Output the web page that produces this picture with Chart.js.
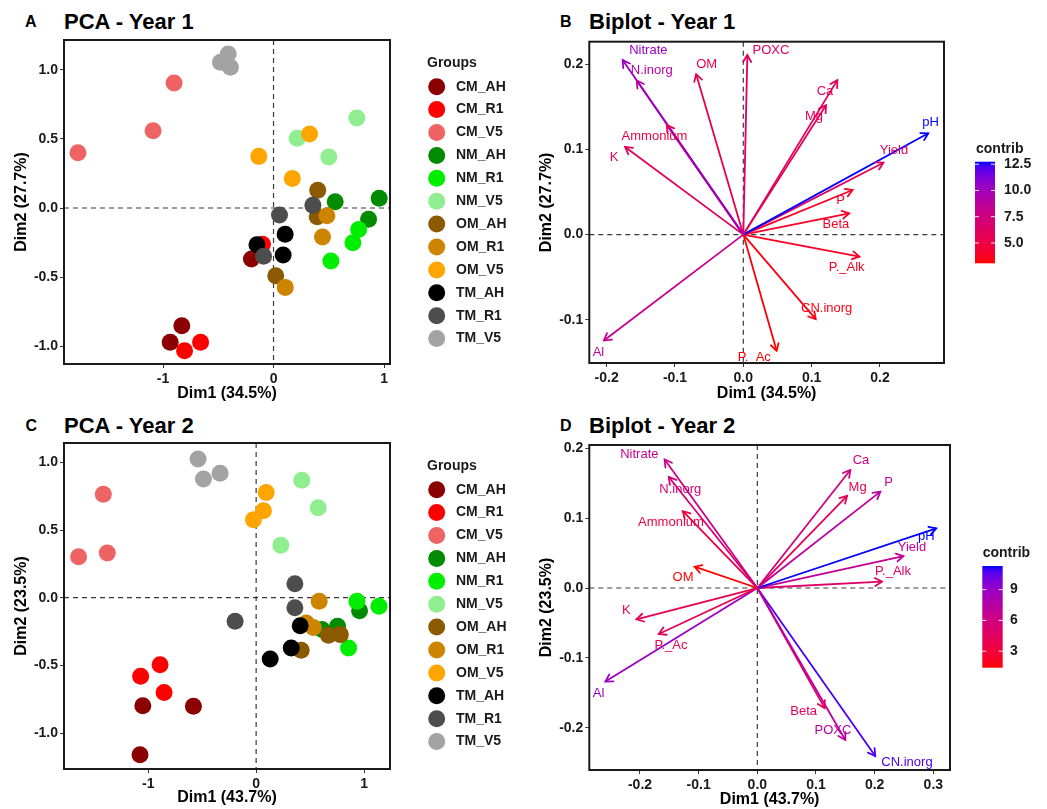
<!DOCTYPE html>
<html><head><meta charset="utf-8">
<script src="https://cdn.jsdelivr.net/npm/chart.js@4.4.0/dist/chart.umd.min.js"></script>
<style>
body{margin:0;width:1047px;height:809px;background:#fff;position:relative;overflow:hidden;font-family:"Liberation Sans",Arial,sans-serif;}
canvas{position:absolute;}
.t{position:absolute;font-weight:bold;color:#000;white-space:nowrap;}
.letter{font-size:16px;line-height:16px;}
.title{font-size:22px;line-height:22px;}
</style></head><body>
<div class="t letter" style="left:25px;top:13.6px">A</div>
<div class="t title" style="left:64px;top:10.7px">PCA - Year 1</div>
<div class="t letter" style="left:560px;top:13.6px">B</div>
<div class="t title" style="left:589px;top:10.7px">Biplot - Year 1</div>
<div class="t letter" style="left:25.6px;top:417.6px">C</div>
<div class="t title" style="left:64px;top:414.7px">PCA - Year 2</div>
<div class="t letter" style="left:560px;top:417.6px">D</div>
<div class="t title" style="left:589px;top:414.7px">Biplot - Year 2</div>
<canvas id="cA" width="530" height="405" style="left:0;top:0"></canvas>
<canvas id="cB" width="517" height="405" style="left:530px;top:0"></canvas>
<canvas id="cC" width="530" height="406" style="left:0;top:403px"></canvas>
<canvas id="cD" width="517" height="406" style="left:530px;top:403px"></canvas>
<script>
// ---------- DATA ----------
const groups = ['CM_AH','CM_R1','CM_V5','NM_AH','NM_R1','NM_V5','OM_AH','OM_R1','OM_V5','TM_AH','TM_R1','TM_V5'];
// Year 1 PCA individuals (3 per group)
const y1Dim1 = [
  [-0.83,-0.935,-0.20], [-0.805,-0.66,-0.10], [-1.77,-1.09,-0.90],
  [0.558,0.956,0.86], [0.77,0.718,0.519], [0.214,0.50,0.754],
  [0.40,0.395,0.02], [0.483,0.443,0.106], [-0.133,0.326,0.17],
  [-0.15,0.105,0.087], [-0.09,0.054,0.356], [-0.48,-0.41,-0.39]
];
const y1Dim2 = [
  [-0.853,-0.973,-0.37], [-1.034,-0.973,-0.263], [0.40,0.56,0.906],
  [0.046,0.07,-0.082], [-0.155,-0.251,-0.384], [0.505,0.37,0.652],
  [0.128,-0.063,-0.49], [-0.056,-0.21,-0.575], [0.374,0.536,0.213],
  [-0.266,-0.19,-0.34], [-0.35,-0.05,0.02], [1.056,1.116,1.02]
];
// Year 2 PCA individuals
const y2Dim1 = [
  [-1.05,-0.581,-1.076], [-0.89,-1.07,-0.853], [-1.416,-1.645,-1.379],
  [0.61,0.754,0.958], [0.934,1.138,0.856], [0.423,0.575,0.229],
  [0.417,0.67,0.78], [0.584,0.464,0.53], [0.093,0.068,-0.025],
  [0.408,0.325,0.13], [0.359,0.359,-0.195], [-0.538,-0.488,-0.334]
];
const y2Dim2 = [
  [-0.798,-0.803,-1.16], [-0.495,-0.581,-0.70], [0.764,0.303,0.330],
  [-0.236,-0.212,-0.096], [-0.027,-0.064,-0.372], [0.867,0.665,0.387],
  [-0.389,-0.278,-0.273], [-0.027,-0.187,-0.22], [0.778,0.643,0.576],
  [-0.207,-0.372,-0.453], [0.103,-0.074,-0.175], [1.025,0.877,0.919]
];
// Biplot variables
const vars = ['Nitrate','N.inorg','OM','POXC','Ca','Mg','Ammonium','K','pH','Yield','P','Beta','P._Alk','CN.inorg','P._Ac','Al'];
const b1Dim1 = [-0.1766,-0.156,-0.069,0.0059,0.1376,0.121,-0.112,-0.173,0.2707,0.205,0.16,0.155,0.17,0.106,0.0488,-0.204];
const b1Dim2 = [0.205,0.181,0.1885,0.211,0.1815,0.152,0.1287,0.103,0.119,0.0845,0.0524,0.025,-0.0258,-0.0993,-0.1365,-0.1244];
const b1Contrib = [10.3,8.9,5.5,6.0,6.0,5.8,5.0,6.0,12.74,6.0,4.0,4.0,3.8,3.3,3.06,8.2];
const b1LabX = [-0.139,-0.134,-0.0537,0.0405,0.1195,0.1034,-0.130,-0.189,0.274,0.2205,0.1424,0.1356,0.1512,0.122,0.0161,-0.212];
const b1LabY = [0.2167,0.1924,0.1998,0.2167,0.1686,0.1384,0.1158,0.0911,0.1318,0.0986,0.0407,0.0121,-0.0387,-0.0872,-0.1439,-0.138];
const b2Dim1 = [-0.158,-0.151,-0.107,0.15,0.1585,0.153,-0.127,-0.206,0.305,0.249,0.2097,0.1148,0.2125,0.201,-0.168,-0.259];
const b2Dim2 = [0.184,0.159,0.0305,-0.2177,0.169,0.132,0.110,-0.0449,0.0854,0.0458,0.138,-0.172,0.0091,-0.2406,-0.0659,-0.134];
const b2Contrib = [6.3,5.4,1.39,7.3,5.9,4.0,3.4,3.9,11.3,6.8,7.3,4.4,4.9,10.8,3.9,8.8];
const b2LabX = [-0.2011,-0.1313,-0.1267,0.129,0.1767,0.171,-0.1472,-0.2233,0.288,0.2636,0.2239,0.079,0.2313,0.2551,-0.1472,-0.2705];
const b2LabY = [0.1914,0.1413,0.0148,-0.2033,0.1823,0.1442,0.0936,-0.0315,0.0735,0.0582,0.1508,-0.1771,0.0243,-0.2496,-0.0816,-0.1508];
// Tick labels
const ticksA_x = [-1,0,1], ticksA_y = [-1,-0.5,0,0.5,1];
const ticksC_x = [-1,0,1], ticksC_y = [-1,-0.5,0,0.5,1];
const ticksB_x = [-0.2,-0.1,0,0.1,0.2], ticksB_y = [-0.1,0,0.1,0.2];
const ticksD_x = [-0.2,-0.1,0,0.1,0.2,0.3], ticksD_y = [-0.2,-0.1,0,0.1,0.2];
const cbarB_ticks = [5,7.5,10,12.5], cbarD_ticks = [3,6,9];

// ---------- STYLE ----------
const groupColors = ['#8B0000','#FF0000','#EE6363','#008B00','#00EE00','#90EE90','#8B5A00','#CD8500','#FFA500','#000000','#4D4D4D','#A3A3A3'];
const FONT = '"Liberation Sans", Arial, sans-serif';

function s2l(c){c/=255;return c<=0.04045?c/12.92:Math.pow((c+0.055)/1.055,2.4);}
function l2s(c){const v=c<=0.0031308?12.92*c:1.055*Math.pow(c,1/2.4)-0.055;return Math.round(Math.max(0,Math.min(1,v))*255);}
function rgb2lab(rgb){const r=s2l(rgb[0]),g=s2l(rgb[1]),b=s2l(rgb[2]);
  const X=(r*0.4124+g*0.3576+b*0.1805)/0.95047,Y=r*0.2126+g*0.7152+b*0.0722,Z=(r*0.0193+g*0.1192+b*0.9505)/1.08883;
  const f=t=>t>0.008856?Math.cbrt(t):7.787*t+16/116;const fx=f(X),fy=f(Y),fz=f(Z);
  return [116*fy-16,500*(fx-fy),200*(fy-fz)];}
function lab2rgb(l){const fy=(l[0]+16)/116,fx=fy+l[1]/500,fz=fy-l[2]/200;
  const fi=t=>t*t*t>0.008856?t*t*t:(t-16/116)/7.787;
  const X=fi(fx)*0.95047,Y=fi(fy),Z=fi(fz)*1.08883;
  const r=3.2406*X-1.5372*Y-0.4986*Z,g=-0.9689*X+1.8758*Y+0.0415*Z,b=0.0557*X-0.2040*Y+1.0570*Z;
  return 'rgb('+l2s(r)+','+l2s(g)+','+l2s(b)+')';}
const LAB_LO = rgb2lab([255,0,0]), LAB_HI = rgb2lab([0,0,255]);
function gradCol(t){t=Math.max(0,Math.min(1,t));return lab2rgb([0,1,2].map(k=>LAB_LO[k]+(LAB_HI[k]-LAB_LO[k])*t));}

// ---------- PLUGINS ----------
const zeroLines = {id:'zeroLines', beforeDatasetsDraw(chart){
  const {ctx, chartArea:a, scales:{x,y}} = chart; const px=x.getPixelForValue(0), py=y.getPixelForValue(0);
  ctx.save(); ctx.strokeStyle='#3a3a3a'; ctx.lineWidth=1.2; ctx.setLineDash([5,4]);
  ctx.beginPath(); ctx.moveTo(px,a.top); ctx.lineTo(px,a.bottom); ctx.moveTo(a.left,py); ctx.lineTo(a.right,py); ctx.stroke();
  ctx.restore();}};
const boxBorder = {id:'boxBorder', afterDraw(chart){
  const {ctx, chartArea:a} = chart; ctx.save(); ctx.strokeStyle='#1a1a1a'; ctx.lineWidth=2;
  ctx.strokeRect(a.left,a.top,a.right-a.left,a.bottom-a.top); ctx.restore();}};
const groupLegend = {id:'groupLegend', afterDraw(chart){
  const ctx=chart.ctx; ctx.save(); ctx.font='bold 14px '+FONT; ctx.textBaseline='middle'; ctx.textAlign='left';
  ctx.fillStyle='#1a1a1a'; ctx.fillText('Groups',427,63);
  groups.forEach((g,i)=>{const yy=86.7+i*22.9; ctx.beginPath(); ctx.arc(436.7,yy,8.5,0,2*Math.PI);
    ctx.fillStyle=groupColors[i]; ctx.fill(); ctx.fillStyle='#1a1a1a'; ctx.fillText(g,456,yy);});
  ctx.restore();}};
function arrowPlugin(labX, labY){ return {id:'arrows', afterDatasetsDraw(chart){
  const ctx=chart.ctx, sx=chart.scales.x, sy=chart.scales.y; ctx.save();
  chart.data.datasets.forEach((ds,i)=>{const m=chart.getDatasetMeta(i); const p0=m.data[0], p1=m.data[1];
    const ang=Math.atan2(p1.y-p0.y,p1.x-p0.x), L=8, h=Math.PI/6;
    ctx.strokeStyle=ds.borderColor; ctx.lineWidth=1.8; ctx.setLineDash([]); ctx.lineCap='round';
    ctx.beginPath(); ctx.moveTo(p1.x-L*Math.cos(ang-h),p1.y-L*Math.sin(ang-h)); ctx.lineTo(p1.x,p1.y);
    ctx.lineTo(p1.x-L*Math.cos(ang+h),p1.y-L*Math.sin(ang+h)); ctx.stroke();
    ctx.font='13px '+FONT; ctx.textAlign='center'; ctx.textBaseline='middle'; ctx.fillStyle=ds.borderColor;
    ctx.fillText(ds.label, sx.getPixelForValue(labX[i]), sy.getPixelForValue(labY[i]));});
  ctx.restore();}};}
function colorbarPlugin(c){ return {id:'cbar', afterDraw(chart){
  const ctx=chart.ctx; ctx.save();
  const g=ctx.createLinearGradient(0,c.y1,0,c.y0);
  for(let k=0;k<=20;k++) g.addColorStop(k/20, gradCol(k/20));
  ctx.fillStyle=g; ctx.fillRect(c.x0,c.y0,c.x1-c.x0,c.y1-c.y0);
  ctx.font='bold 14px '+FONT; ctx.fillStyle='#1a1a1a'; ctx.textAlign='left'; ctx.textBaseline='middle';
  ctx.fillText('contrib', c.tx, c.ty);
  c.ticks.forEach(v=>{const yy=c.y1-(v-c.min)/(c.max-c.min)*(c.y1-c.y0);
    ctx.strokeStyle='rgba(255,255,255,0.9)'; ctx.lineWidth=1; ctx.beginPath();
    ctx.moveTo(c.x0,yy); ctx.lineTo(c.x0+4,yy); ctx.moveTo(c.x1-4,yy); ctx.lineTo(c.x1,yy); ctx.stroke();
    ctx.fillStyle='#1a1a1a'; ctx.fillText(v.toFixed(c.dec), c.lx, yy);});
  ctx.restore();}};}

// ---------- BUILDER ----------
function makeChart(id, cfg){
  const W=cfg.W, H=cfg.H, a=cfg.area;
  const tickFont={family:FONT,size:14,weight:'bold'};
  const axis=(rng,ticks,dec,title,pad,isX)=>({
    type:'linear', min:rng[0], max:rng[1],
    afterFit: isX ? (s=>{s.height=H-a.bottom;}) : (s=>{s.width=a.left;}),
    afterBuildTicks: s=>{s.ticks=ticks.map(v=>({value:v}));},
    ticks:{callback:v=>Number(v).toFixed(dec), font:tickFont, color:'#1a1a1a', padding:isX?3:2, maxRotation:0, autoSkip:false},
    grid:{display:true, drawOnChartArea:false, drawTicks:true, tickLength:4, color:'#333', lineWidth:1},
    border:{display:false},
    title:{display:true, text:title, font:{family:FONT,size:16,weight:'bold'}, color:'#000', padding:isX?{top:0,bottom:pad}:{top:pad,bottom:0}}
  });
  return new Chart(document.getElementById(id), {
    type:'scatter',
    data:{datasets:cfg.datasets},
    options:{
      responsive:false, animation:false, events:[], devicePixelRatio:1,
      layout:{padding:{left:0, top:a.top, right:W-a.right, bottom:0}},
      plugins:{legend:{display:false}, tooltip:{enabled:false}},
      scales:{ x:axis(cfg.xr,cfg.xt,cfg.xdec,cfg.xTitle,cfg.xPad,true), y:axis(cfg.yr,cfg.yt,cfg.ydec,cfg.yTitle,cfg.yPad,false) }
    },
    plugins:[zeroLines, ...cfg.plugins, boxBorder]
  });
}
function scatterSets(d1,d2){
  return groups.map((g,i)=>({label:g, order:-i,
    data:d1[i].map((x,j)=>({x:x,y:d2[i][j]})),
    backgroundColor:groupColors[i], borderColor:groupColors[i], borderWidth:0, pointRadius:8.5, pointHoverRadius:8.5}));
}
function arrowSets(d1,d2,contrib){
  const mn=Math.min(...contrib), mx=Math.max(...contrib);
  return vars.map((v,i)=>({label:v, data:[{x:0,y:0},{x:d1[i],y:d2[i]}], showLine:true,
    borderColor:gradCol((contrib[i]-mn)/(mx-mn)), borderWidth:1.8, pointRadius:0, fill:false}));
}

makeChart('cA',{W:530,H:405,area:{left:64,right:390,top:40,bottom:364},
  xr:[-1.896,1.054], yr:[-1.13,1.217], xt:ticksA_x, yt:ticksA_y, xdec:0, ydec:1,
  xTitle:'Dim1 (34.5%)', yTitle:'Dim2 (27.7%)', xPad:1.4, yPad:12.4,
  datasets:scatterSets(y1Dim1,y1Dim2), plugins:[groupLegend]});
makeChart('cC',{W:530,H:406,area:{left:64,right:390,top:40,bottom:366},
  xr:[-1.78,1.24], yr:[-1.266,1.143], xt:ticksC_x, yt:ticksC_y, xdec:0, ydec:1,
  xTitle:'Dim1 (43.7%)', yTitle:'Dim2 (23.5%)', xPad:1.4, yPad:12.4,
  datasets:scatterSets(y2Dim1,y2Dim2), plugins:[groupLegend]});
makeChart('cB',{W:517,H:405,area:{left:59.3,right:414,top:41.7,bottom:363},
  xr:[-0.2254,0.2937], yr:[-0.1508,0.2266], xt:ticksB_x, yt:ticksB_y, xdec:1, ydec:1,
  xTitle:'Dim1 (34.5%)', yTitle:'Dim2 (27.7%)', xPad:1.4, yPad:7.4,
  datasets:arrowSets(b1Dim1,b1Dim2,b1Contrib),
  plugins:[arrowPlugin(b1LabX,b1LabY), colorbarPlugin({x0:445,x1:465,y0:161.7,y1:263.3,
    min:Math.min(...b1Contrib),max:Math.max(...b1Contrib),ticks:cbarB_ticks,dec:1,tx:446,ty:149,lx:474})]});
makeChart('cD',{W:517,H:406,area:{left:59.3,right:420,top:42,bottom:367},
  xr:[-0.2864,0.3284], yr:[-0.2606,0.2048], xt:ticksD_x, yt:ticksD_y, xdec:1, ydec:1,
  xTitle:'Dim1 (43.7%)', yTitle:'Dim2 (23.5%)', xPad:0, yPad:7.4,
  datasets:arrowSets(b2Dim1,b2Dim2,b2Contrib),
  plugins:[arrowPlugin(b2LabX,b2LabY), colorbarPlugin({x0:452.3,x1:472.7,y0:163,y1:264.7,
    min:Math.min(...b2Contrib),max:Math.max(...b2Contrib),ticks:cbarD_ticks,dec:0,tx:452.7,ty:150.3,lx:480})]});
</script>
</body></html>
